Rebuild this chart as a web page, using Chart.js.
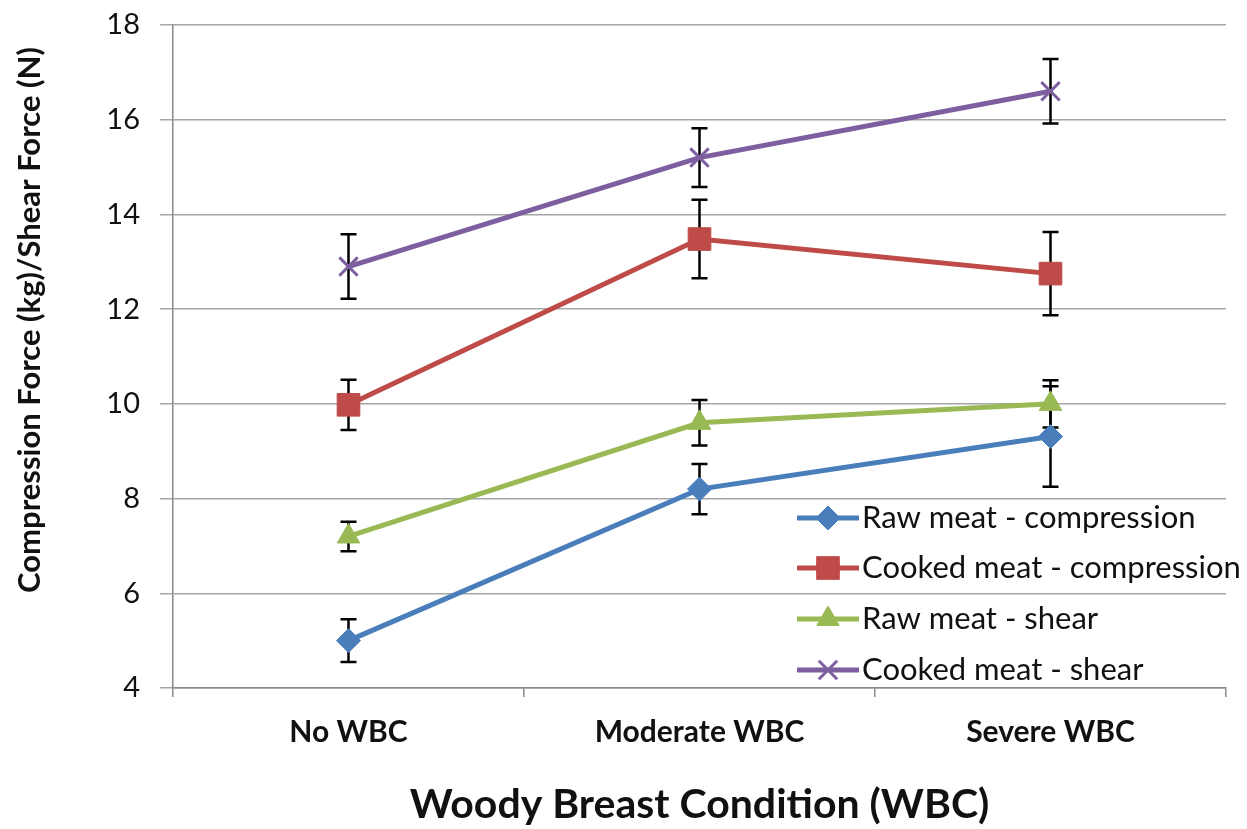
<!DOCTYPE html>
<html>
<head>
<meta charset="utf-8">
<script src="https://cdn.jsdelivr.net/npm/chart.js@4/dist/chart.umd.min.js"></script>
<style>
    html, body { margin: 0; padding: 0; background: #fff; }
    #wrap { width: 1247px; height: 829px; }
</style>
</head>
<body>
<div id="wrap"><canvas id="wbcChart" width="1247" height="829"></canvas></div>
<script>
// Data
const categories = ['No WBC', 'Moderate WBC', 'Severe WBC'];
const seriesNames = ['Raw meat - compression', 'Cooked meat - compression', 'Raw meat - shear', 'Cooked meat - shear'];
const rawCompression = [5.0, 8.2, 9.31];
const rawCompressionErr = [0.45, 0.53, 1.06];
const cookedCompression = [9.98, 13.48, 12.75];
const cookedCompressionErr = [0.53, 0.83, 0.88];
const rawShear = [7.2, 9.6, 10.0];
const rawShearErr = [0.31, 0.48, 0.5];
const cookedShear = [12.9, 15.2, 16.6];
const cookedShearErr = [0.68, 0.62, 0.68];
const yMin = 4;
const yMax = 18;
const yStep = 2;
const yTitle = 'Compression Force (kg)/Shear Force (N)';
const xTitle = 'Woody Breast Condition (WBC)';

const FONT = 'Lato, "Open Sans", sans-serif';

const makeSet = (label, data, err, color, style, radius, borderWidth) => ({
    label,
    data,
    errors: err,
    borderColor: color,
    backgroundColor: color,
    borderWidth: 5,
    pointStyle: style,
    pointRadius: radius,
    pointHoverRadius: radius,
    pointBorderWidth: borderWidth,
    pointBackgroundColor: color,
    pointBorderColor: color,
    tension: 0
});

const datasets = [
    makeSet(seriesNames[0], rawCompression, rawCompressionErr, '#4a7ebb', 'rectRot', 12, 1),
    makeSet(seriesNames[1], cookedCompression, cookedCompressionErr, '#be4b48', 'rect', 16, 1),
    makeSet(seriesNames[2], rawShear, rawShearErr, '#98b954', 'triangle', 13, 1),
    makeSet(seriesNames[3], cookedShear, cookedShearErr, '#7d5fa0', 'crossRot', 13, 3)
];

// Error bars, drawn under the markers
const errorBars = {
    id: 'errorBars',
    beforeDatasetsDraw(chart) {
        const { ctx, scales: { x, y } } = chart;
        ctx.save();
        ctx.strokeStyle = '#000';
        ctx.lineWidth = 2.5;
        chart.data.datasets.forEach(ds => {
            ds.data.forEach((v, i) => {
                const px = x.getPixelForValue(i);
                const top = y.getPixelForValue(v + ds.errors[i]);
                const bot = y.getPixelForValue(v - ds.errors[i]);
                ctx.beginPath();
                ctx.moveTo(px, top); ctx.lineTo(px, bot);
                ctx.moveTo(px - 8, top); ctx.lineTo(px + 8, top);
                ctx.moveTo(px - 8, bot); ctx.lineTo(px + 8, bot);
                ctx.stroke();
            });
        });
        ctx.restore();
    }
};

// Legend floating inside the plot, and the y title
const overlay = {
    id: 'overlay',
    afterDraw(chart) {
        const { ctx } = chart;
        ctx.save();
        // y axis title
        ctx.translate(30, 320);
        ctx.rotate(-Math.PI / 2);
        ctx.font = 'bold 31px ' + FONT;
        ctx.fillStyle = '#111';
        ctx.textAlign = 'center';
        ctx.textBaseline = 'middle';
        ctx.fillText(yTitle, 0, 0);
        ctx.restore();

        ctx.save();
        const x0 = 797;
        const rows = [518, 568, 619, 670];
        chart.data.datasets.forEach((ds, i) => {
            const yy = rows[i];
            ctx.strokeStyle = ds.borderColor;
            ctx.lineWidth = 5;
            ctx.beginPath();
            ctx.moveTo(x0, yy); ctx.lineTo(x0 + 62, yy);
            ctx.stroke();
            ctx.fillStyle = ds.pointBackgroundColor;
            ctx.strokeStyle = ds.pointBorderColor;
            ctx.lineWidth = ds.pointBorderWidth;
            Chart.helpers.drawPoint(ctx, {
                pointStyle: ds.pointStyle,
                radius: ds.pointRadius,
                borderWidth: ds.pointBorderWidth,
                rotation: 0
            }, x0 + 31, yy);
            ctx.fillStyle = '#111';
            ctx.font = '31px ' + FONT;
            ctx.textAlign = 'left';
            ctx.textBaseline = 'middle';
            ctx.fillText(ds.label, x0 + 65, yy);
        });
        ctx.restore();
    }
};

new Chart(document.getElementById('wbcChart'), {
    type: 'line',
    data: { labels: categories, datasets },
    options: {
        responsive: false,
        animation: false,
        layout: { padding: { top: 25, right: 21, bottom: 0, left: 0 } },
        plugins: {
            legend: { display: false },
            tooltip: { enabled: false }
        },
        scales: {
            x: {
                offset: true,
                grid: {
                    offset: true,
                    drawOnChartArea: false,
                    drawTicks: true,
                    tickLength: 9,
                    color: '#888',
                    lineWidth: 1.5
                },
                border: { display: true, color: '#888', width: 1.5 },
                ticks: {
                    color: '#111',
                    padding: 17,
                    font: { family: FONT, size: 30, weight: 'bold' }
                },
                title: {
                    display: true,
                    text: xTitle,
                    color: '#111',
                    padding: { top: 0, bottom: 0 },
                    font: { family: FONT, size: 41, weight: 'bold' }
                },
                afterFit: s => { s.height = 141; s.paddingLeft = 0; s.paddingRight = 0; }
            },
            y: {
                min: yMin,
                max: yMax,
                ticks: {
                    stepSize: yStep,
                    color: '#111',
                    padding: 20,
                    font: { family: FONT, size: 29 }
                },
                grid: {
                    color: '#a6a6a6',
                    lineWidth: 1.5,
                    tickLength: 13
                },
                border: { display: true, color: '#888', width: 1.5 },
                afterFit: s => { s.width = 173; s.paddingTop = 0; s.paddingBottom = 0; }
            }
        }
    },
    plugins: [errorBars, overlay]
});
</script>
</body>
</html>
